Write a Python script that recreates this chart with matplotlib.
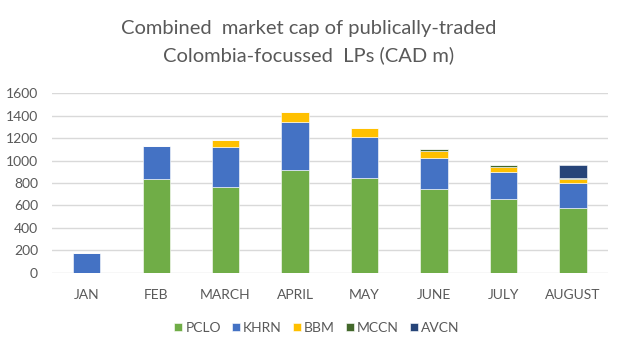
import numpy as np
import matplotlib.pyplot as plt

plt.rcParams['font.family'] = ['Lato', 'DejaVu Sans']

months = ['JAN', 'FEB', 'MARCH', 'APRIL', 'MAY', 'JUNE', 'JULY', 'AUGUST']
pclo = [0, 833, 762, 916, 845, 746, 660, 574]
khrn = [173, 294, 360, 425, 365, 280, 241, 226]
bbm = [0, 0, 60, 89, 78, 62, 42, 36]
mccn = [0, 0, 0, 0, 0, 12, 15, 6]
avcn = [0, 0, 0, 0, 0, 0, 0, 116]

series = [('PCLO', pclo, '#70AD47'), ('KHRN', khrn, '#4472C4'),
          ('BBM', bbm, '#FFC000'), ('MCCN', mccn, '#43682B'),
          ('AVCN', avcn, '#264478')]

fig = plt.figure(figsize=(6.17, 3.52), dpi=100)
ax = fig.add_axes([0.084, 0.225, 0.901, 0.51])

x = np.arange(len(months))
bottom = np.zeros(len(months))
for name, vals, col in series:
    vals = np.array(vals, dtype=float)
    ax.bar(x, vals, 0.39, bottom=bottom, color=col, label=name,
           edgecolor='white', linewidth=0.4, zorder=3)
    bottom += vals

ax.set_xlim(-0.5, 7.5)
ax.set_ylim(0, 1600)
ax.set_yticks(range(0, 1601, 200))
ax.set_xticks(x)
ax.set_xticklabels(months)
ax.grid(axis='y', color='#D9D9D9', linewidth=1, zorder=0)
for s in ax.spines.values():
    s.set_visible(False)
ax.tick_params(length=0, labelsize=10, colors='#595959')
ax.tick_params(axis='x', pad=12)
ax.tick_params(axis='y', pad=10)

fig.text(0.5, 0.88, 'Combined  market cap of publically-traded\nColombia-focussed  LPs (CAD m)',
         ha='center', va='center', fontsize=14.5, color='#595959', linespacing=1.65)

ax.legend(loc='center', bbox_to_anchor=(0.477, -0.308), ncol=5, frameon=False,
          fontsize=10, handlelength=0.55, handleheight=0.55, handletextpad=0.25,
          columnspacing=0.8, labelcolor='#595959')

fig.savefig('out.png', dpi=100)
